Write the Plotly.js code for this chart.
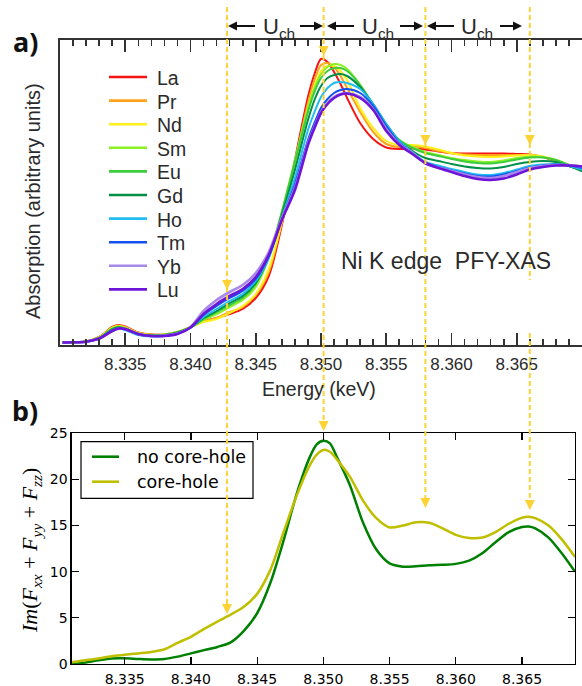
<!DOCTYPE html>
<html><head><meta charset="utf-8">
<script src="https://cdn.plot.ly/plotly-3.0.1.min.js"></script>
<style>html,body{margin:0;padding:0;background:#fff}#chart{width:582px;height:686px}</style>
</head><body><div id="chart"></div>
<script>
// ---------- data: panel a (Ni K edge PFY-XAS, arbitrary units) ----------
const energyA = [8.3302, 8.331, 8.332, 8.333, 8.334, 8.3345, 8.335, 8.336, 8.337, 8.338, 8.339, 8.340,
  8.341, 8.342, 8.343, 8.344, 8.345, 8.346, 8.347, 8.348, 8.349, 8.3495, 8.350, 8.3505, 8.351, 8.3515,
  8.352, 8.353, 8.354, 8.355, 8.356, 8.357, 8.358, 8.359, 8.360, 8.361, 8.362, 8.363, 8.364, 8.365,
  8.366, 8.367, 8.368, 8.369, 8.370];
const La = [0.5, 0.7, 1.5, 6, 16, 18, 16.5, 10.5, 8.5, 8.5, 11, 16, 22, 25, 29, 34, 45, 67,
  118, 183, 246, 269, 284, 281, 271, 259, 245, 220, 204, 195.5, 194, 194.5,
  193.5, 191.5, 190, 189.5, 189.5, 189.5, 189.5, 189, 188.5, 186, 182, 177, 173];
const Pr = [0.5, 0.7, 1.5, 6, 15.5, 17.5, 16, 10, 8.5, 8.5, 11, 16, 21.5, 25, 31, 36, 48, 71,
  121, 180, 240, 263, 278, 280, 276, 267, 255, 231, 211, 199, 196, 197,
  195, 192, 189.5, 188.5, 188, 188, 188, 188, 188, 186, 182, 177, 173];
const Nd = [0.5, 0.7, 1.5, 5.5, 15, 17, 15.5, 10, 8, 8.5, 11, 16, 21, 24, 30, 37, 49, 74,
  121, 177, 235, 257, 272, 277, 277, 272, 263, 235, 215, 202, 198, 198,
  196.5, 193.5, 190, 187.5, 186.5, 186, 186.5, 187.5, 188, 186.5, 183, 178, 173];
const Sm = [0.5, 0.7, 1.4, 5.5, 14.5, 16.5, 15, 9.5, 8, 8.5, 11, 16, 23, 29, 36, 43, 56, 85,
  131, 183, 235, 255, 269, 276, 279, 278, 274, 258, 237, 217, 203, 196,
  191, 188, 185, 183, 181.5, 181, 182.5, 185, 186.5, 186, 183, 178, 172];
const Eu = [0.5, 0.7, 1.4, 5, 14, 16, 14.5, 9, 7.5, 8, 10.5, 15.5, 24, 31, 38, 45, 59, 87,
  131, 181, 231, 251, 265, 272, 275, 275, 272, 258, 238, 218, 203, 195,
  190, 187, 184, 181.5, 180, 179.5, 181, 183.5, 185.5, 185.5, 183, 178, 172];
const Gd = [0.5, 0.7, 1.4, 5, 13.5, 15.5, 14, 9, 7.5, 8, 10.5, 15.5, 25, 32, 40, 47, 60, 86,
  128, 173, 223, 243, 257, 265, 268, 269, 267, 256, 239, 219, 202, 192,
  185, 182, 179, 176.5, 175, 174.5, 176, 179, 181, 182, 181, 177, 172];
const Ho = [0.5, 0.7, 1.3, 4.5, 12.5, 14.5, 13, 8, 6.5, 7, 9.5, 15, 26, 34, 42, 49, 62, 85,
  125, 165, 213, 231, 246, 255, 260, 261, 260, 254, 239, 219, 202, 191,
  181, 177.5, 174, 171, 168.5, 168, 170, 173.5, 177, 178.5, 179, 177, 173.5];
const Tm = [0.5, 0.7, 1.3, 4.5, 12.5, 14.5, 13.5, 8.5, 7, 7.5, 9.5, 15.5, 28, 37, 45, 52, 64, 87,
  124, 159, 203, 220, 235, 244, 250, 253, 254, 250, 237, 217, 200, 190,
  180, 176, 172.5, 169.5, 167, 166.5, 168.5, 172, 175.5, 177.5, 178.5, 177.5, 175];
const Yb = [0.5, 0.7, 1.3, 4.5, 12, 14.5, 14, 9, 7, 7.5, 9.5, 16, 32, 43, 51, 58, 70, 91,
  125, 155, 200, 216, 231, 240, 246, 249, 250, 246, 234, 214, 199, 190,
  179.5, 175.5, 172, 168.5, 166, 165, 167, 171, 175, 177, 178, 178, 176.5];
const Lu = [0.5, 0.7, 1.3, 4.5, 12, 14.5, 14, 9, 7, 7, 9, 15.5, 29, 39, 47, 54, 66, 88,
  123, 153, 198, 215, 230, 239, 245, 248.5, 249.5, 245, 233, 212, 198, 189,
  180, 175, 171, 167, 164, 163, 164.5, 168.5, 173.5, 176, 177.5, 177.5, 176.5];
const seriesNames = ['La', 'Pr', 'Nd', 'Sm', 'Eu', 'Gd', 'Ho', 'Tm', 'Yb', 'Lu'];
const seriesA = [La, Pr, Nd, Sm, Eu, Gd, Ho, Tm, Yb, Lu];
const colorsA = ['#f41414', '#ffa31c', '#fff01a', '#8cf023', '#3ccc3c', '#009048', '#22bdf0', '#1450f0', '#a888e8', '#6c14d8'];
const xTicksA = [8.335, 8.340, 8.345, 8.350, 8.355, 8.360, 8.365];

// ---------- data: panel b (calculated spectra) ----------
const energyB = [8.331, 8.332, 8.333, 8.334, 8.335, 8.336, 8.337, 8.338, 8.339, 8.340, 8.341, 8.342,
  8.343, 8.344, 8.345, 8.346, 8.347, 8.348, 8.349, 8.3495, 8.350, 8.3505, 8.351, 8.352, 8.353, 8.354,
  8.355, 8.356, 8.357, 8.358, 8.359, 8.360, 8.361, 8.362, 8.363, 8.364, 8.365, 8.3655, 8.366, 8.367,
  8.368, 8.369];
const noCoreHole = [0.0, 0.15, 0.4, 0.6, 0.62, 0.55, 0.5, 0.55, 0.8, 1.15, 1.5, 1.85, 2.35, 3.6, 5.5,
  8.8, 13.4, 18.5, 22.5, 23.8, 24.2, 23.9, 22.5, 19.4, 15.3, 12.4, 10.9, 10.55, 10.6, 10.7, 10.75,
  10.85, 11.2, 12.0, 13.2, 14.3, 14.85, 14.9, 14.7, 13.7, 12.0, 10.0];
const coreHole = [0.2, 0.4, 0.6, 0.85, 1.0, 1.15, 1.3, 1.6, 2.3, 2.95, 3.8, 4.6, 5.35, 6.2, 7.6,
  10.2, 14.3, 18.3, 21.6, 22.7, 23.2, 23.0, 22.2, 20.3, 17.7, 15.8, 14.8, 15.0, 15.35, 15.3, 14.7,
  14.0, 13.65, 13.7, 14.3, 15.2, 15.85, 15.95, 15.8, 15.0, 13.5, 11.6];
const namesB = ['no core-hole', 'core-hole'];
const colorsB = ['#008000', '#bfbf00'];
const xTicksB = [8.335, 8.340, 8.345, 8.350, 8.355, 8.360, 8.365];
const yTicksB = [0, 5, 10, 15, 20, 25];

// feature energies marked by dashed arrows
const markE = [8.3428, 8.3502, 8.3580, 8.3660];

// ---------- geometry helpers ----------
const W = 582, H = 686;
const PX = p => p / W;
const PY = p => 1 - p / H;
const GOLD = '#fdd235';
const TXT = '#2a2a2a';

const traces = [];
seriesA.forEach((s, i) => {
  traces.push({
    x: energyA, y: s, name: seriesNames[i], mode: 'lines', xaxis: 'x', yaxis: 'y', showlegend: false,
    line: {color: colorsA[i], width: (i >= 8 ? 2.6 : 2), shape: 'spline', smoothing: 0.8}
  });
});
[noCoreHole, coreHole].forEach((s, i) => {
  traces.push({
    x: energyB, y: s, name: namesB[i], mode: 'lines', xaxis: 'x2', yaxis: 'y2', showlegend: false,
    line: {color: colorsB[i], width: 2.5, shape: 'spline', smoothing: 0.8}
  });
});

const shapes = [];
const annotations = [];

// legend of panel a (key lines + labels)
seriesNames.forEach((nm, i) => {
  const yc = 77 + i * 23.6;
  shapes.push({type: 'line', xref: 'paper', yref: 'paper', x0: PX(109), x1: PX(147), y0: PY(yc), y1: PY(yc),
    line: {color: colorsA[i], width: 2.6}});
  annotations.push({xref: 'paper', yref: 'paper', x: PX(155), y: PY(yc + 1), text: nm, showarrow: false,
    xanchor: 'left', yanchor: 'middle', font: {family: 'Liberation Sans', size: 19.5, color: TXT}});
});

// legend of panel b (framed box)
shapes.push({type: 'rect', xref: 'paper', yref: 'paper', x0: PX(81), x1: PX(253), y0: PY(441.7), y1: PY(498.3),
  fillcolor: '#fff', line: {color: '#000', width: 1.2}, layer: 'above'});
namesB.forEach((nm, i) => {
  const yc = 456.7 + i * 25;
  shapes.push({type: 'line', xref: 'paper', yref: 'paper', x0: PX(92), x1: PX(119), y0: PY(yc), y1: PY(yc),
    line: {color: colorsB[i], width: 2.6}, layer: 'above'});
  annotations.push({xref: 'paper', yref: 'paper', x: PX(135), y: PY(yc), text: nm, showarrow: false,
    xanchor: 'left', yanchor: 'middle', font: {family: 'DejaVu Sans', size: 17.5, color: '#000'}});
});

// dashed guide lines + arrow heads
function vline(E, y0, y1) {
  shapes.push({type: 'line', xref: 'x', yref: 'paper', x0: E, x1: E, y0: PY(y0), y1: PY(y1),
    line: {color: GOLD, width: 2, dash: '5px,3px'}, layer: 'above'});
}
function head(E, tip) {
  const hw = 5 / 13050, h = 10;
  const yb = PY(tip - h), yt = PY(tip);
  shapes.push({type: 'path', xref: 'x', yref: 'paper',
    path: `M${E - hw},${yb} L${E + hw},${yb} L${E},${yt} Z`,
    fillcolor: GOLD, line: {width: 0}, layer: 'above'});
}
vline(markE[0], 7, 612); head(markE[0], 290); head(markE[0], 614);
vline(markE[1], 7, 428); head(markE[1], 56); head(markE[1], 431);
vline(markE[2], 7, 505); head(markE[2], 145); head(markE[2], 508);
vline(markE[3], 7, 280); vline(markE[3], 333, 507); head(markE[3], 145); head(markE[3], 510);

// U_ch spacing arrows (black)
function harrow(headPx, tailPx, py) {
  const dir = Math.sign(tailPx - headPx);
  const hl = 9, hh = 4.5;
  shapes.push({type: 'line', xref: 'paper', yref: 'paper', x0: PX(headPx + dir * (hl - 1)), x1: PX(tailPx),
    y0: PY(py), y1: PY(py), line: {color: '#111', width: 2}});
  shapes.push({type: 'path', xref: 'paper', yref: 'paper',
    path: `M${PX(headPx)},${PY(py)} L${PX(headPx + dir * hl)},${PY(py - hh)} L${PX(headPx + dir * hl)},${PY(py + hh)} Z`,
    fillcolor: '#111', line: {width: 0}});
}
const uch = [[228, 255, 323, 300, 278.5], [327, 354, 423, 400, 377.5], [427, 454, 522, 500, 476.5]];
uch.forEach(([lh, lt, rh, rt, tc]) => {
  harrow(lh, lt, 26);
  harrow(rh, rt, 26);
  annotations.push({xref: 'paper', yref: 'paper', x: PX(tc), y: PY(28), text: 'U<sub>ch</sub>', showarrow: false,
    xanchor: 'center', yanchor: 'middle', font: {family: 'Liberation Sans', size: 22, color: TXT}});
});

annotations.push({xref: 'paper', yref: 'paper', x: PX(25), y: PY(42), text: '<b>a)</b>', showarrow: false,
  xanchor: 'center', yanchor: 'middle', font: {family: 'Noto Sans', size: 27, color: '#111'}});
annotations.push({xref: 'paper', yref: 'paper', x: PX(25), y: PY(410), text: '<b>b)</b>', showarrow: false,
  xanchor: 'center', yanchor: 'middle', font: {family: 'Noto Sans', size: 27, color: '#111'}});
annotations.push({xref: 'paper', yref: 'paper', x: PX(33), y: PY(201), text: 'Absorption (arbitrary units)',
  textangle: -90, showarrow: false, xanchor: 'center', yanchor: 'middle',
  font: {family: 'Liberation Sans', size: 20, color: TXT}});
annotations.push({xref: 'paper', yref: 'paper', x: PX(319), y: PY(389), text: 'Energy (keV)', showarrow: false,
  xanchor: 'center', yanchor: 'middle', font: {family: 'Liberation Sans', size: 19.5, color: TXT}});
annotations.push({xref: 'paper', yref: 'paper', x: PX(446), y: PY(261), text: 'Ni K edge&nbsp;&nbsp;PFY-XAS',
  showarrow: false, xanchor: 'center', yanchor: 'middle',
  font: {family: 'Liberation Sans', size: 23, color: TXT}});
annotations.push({xref: 'paper', yref: 'paper', x: PX(31), y: PY(551),
  text: '<i>Im</i>(<i>F</i><sub><i>xx</i></sub> + <i>F</i><sub><i>yy</i></sub> + <i>F</i><sub><i>zz</i></sub>)',
  textangle: -90, showarrow: false, xanchor: 'center', yanchor: 'middle',
  font: {family: 'Liberation Serif', size: 22, color: '#000'}});

const layout = {
  width: W, height: H, margin: {l: 0, r: 0, t: 0, b: 0}, paper_bgcolor: '#fff', plot_bgcolor: 'rgba(0,0,0,0)',
  font: {family: 'Liberation Sans', color: TXT},
  showlegend: false,
  xaxis: {domain: [PX(60), 1], range: [8.330, 8.370], anchor: 'y', showline: true, linecolor: '#333',
    linewidth: 2, mirror: 'ticks', ticks: 'inside', ticklen: 12, tickwidth: 1.6, tickcolor: '#333',
    tickmode: 'array', tickvals: xTicksA, ticktext: xTicksA.map(v => v.toFixed(3)),
    tickfont: {family: 'Liberation Sans', size: 17, color: TXT}, ticklabelstandoff: 3,
    showgrid: false, zeroline: false,
    minor: {ticks: 'inside', ticklen: 6, tickwidth: 1.6, tickcolor: '#333', dtick: 0.001, tick0: 8.330, showgrid: false}},
  yaxis: {domain: [PY(345), PY(40)], range: [-2, 303], anchor: 'x', showline: true, linecolor: '#333',
    linewidth: 2, ticks: '', showticklabels: false, showgrid: false, zeroline: false},
  xaxis2: {domain: [PX(71.7), PX(575)], range: [8.331, 8.369], anchor: 'y2', showline: true, linecolor: '#000',
    linewidth: 1.3, mirror: 'ticks', ticks: 'inside', ticklen: 7, tickwidth: 1.2, tickcolor: '#000',
    tickmode: 'array', tickvals: xTicksB, ticktext: xTicksB.map(v => v.toFixed(3)),
    tickfont: {family: 'DejaVu Sans', size: 14, color: '#000'}, ticklabelstandoff: 2,
    showgrid: false, zeroline: false},
  yaxis2: {domain: [PY(664), PY(433.3)], range: [0, 25], anchor: 'x2', showline: true, linecolor: '#000',
    linewidth: 1.3, mirror: 'ticks', ticks: 'inside', ticklen: 7, tickwidth: 1.2, tickcolor: '#000',
    tickmode: 'array', tickvals: yTicksB, ticktext: yTicksB.map(String),
    tickfont: {family: 'DejaVu Sans', size: 14, color: '#000'}, showgrid: false, zeroline: false},
  shapes: shapes,
  annotations: annotations
};

Plotly.newPlot('chart', traces, layout, {displayModeBar: false, staticPlot: true});
</script></body></html>
